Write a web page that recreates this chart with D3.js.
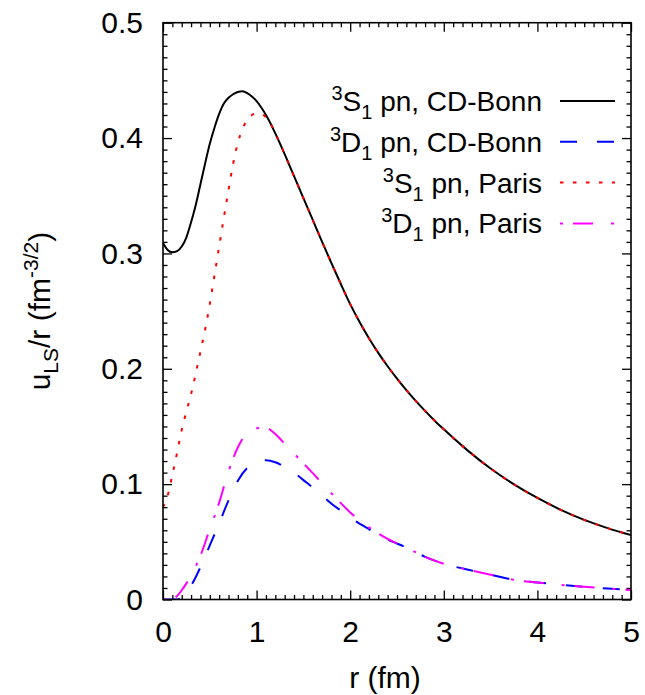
<!DOCTYPE html>
<html>
<head>
<meta charset="utf-8">
<script src="https://cdn.jsdelivr.net/npm/d3@7"></script>
<style>
  html, body { margin: 0; padding: 0; background: #fff; }
  svg { display: block; }
  text { font-family: "Liberation Sans", Arial, Helvetica, sans-serif; fill: #000; }
</style>
</head>
<body>
<svg id="chart" width="645" height="695"></svg>
<script>
// ---- data ----
const rS = [0, 0.05, 0.1, 0.15, 0.2, 0.25, 0.3, 0.35, 0.4, 0.45, 0.5, 0.55, 0.6, 0.65, 0.7, 0.75, 0.8, 0.85, 0.9, 0.95, 1.0,
            1.05, 1.1, 1.15, 1.2, 1.25, 1.3, 1.4, 1.5, 1.6, 1.7, 1.8, 1.9, 2.0, 2.1, 2.2, 2.3, 2.4, 2.5, 2.6, 2.7, 2.8, 2.9, 3.0,
            3.25, 3.5, 3.75, 4.0, 4.25, 4.5, 4.75, 5.0];
const s1Bonn = [0.309, 0.303, 0.301, 0.302, 0.306, 0.314, 0.327, 0.342, 0.360, 0.378, 0.395, 0.409, 0.421, 0.430, 0.435, 0.438, 0.440, 0.4405, 0.439, 0.436, 0.432,
            0.4265, 0.4200, 0.4125, 0.4040, 0.3952, 0.3860, 0.367, 0.348, 0.329, 0.310, 0.2915, 0.2735, 0.2560, 0.2405, 0.2265, 0.2138, 0.2022, 0.1915, 0.1815, 0.1722, 0.1635, 0.1552, 0.1475,
            0.1295, 0.1135, 0.0998, 0.0880, 0.0777, 0.0690, 0.0619, 0.0558];
const s1Paris = [0.080, 0.090, 0.108, 0.127, 0.147, 0.163, 0.178, 0.196, 0.215, 0.234, 0.256, 0.281, 0.306, 0.331, 0.355, 0.378, 0.396, 0.408, 0.416, 0.420, 0.4215,
            0.4210, 0.4180, 0.4125, 0.4040, 0.3952, 0.3860, 0.367, 0.348, 0.329, 0.310, 0.2915, 0.2735, 0.2560, 0.2405, 0.2265, 0.2138, 0.2022, 0.1915, 0.1815, 0.1722, 0.1635, 0.1552, 0.1475,
            0.1295, 0.1135, 0.0998, 0.0880, 0.0777, 0.0690, 0.0619, 0.0558];
const rD = [0, 0.1, 0.15, 0.2, 0.25, 0.3, 0.4, 0.5, 0.6, 0.7, 0.8, 0.9, 1.0, 1.1, 1.2, 1.3, 1.4, 1.5, 1.6, 1.7, 1.8, 1.9, 2.0,
            2.2, 2.4, 2.6, 2.8, 3.0, 3.25, 3.5, 3.75, 4.0, 4.25, 4.5, 4.75, 5.0];
const d1Bonn = [0, 0, 0, 0.001, 0.006, 0.012, 0.028, 0.047, 0.066, 0.086, 0.103, 0.114, 0.119, 0.1207, 0.119, 0.115, 0.110, 0.1035, 0.097, 0.090, 0.083, 0.077, 0.071,
            0.061, 0.052, 0.045, 0.037, 0.031, 0.026, 0.0215, 0.017, 0.0148, 0.0127, 0.011, 0.0095, 0.0082];
const d1Paris = [0, 0.0005, 0.003, 0.008, 0.014, 0.021, 0.038, 0.061, 0.084, 0.111, 0.132, 0.1445, 0.1485, 0.1488, 0.1435, 0.1350, 0.1265, 0.1180, 0.1095, 0.1008, 0.0920, 0.0835, 0.0755,
            0.0625, 0.0525, 0.045, 0.037, 0.031, 0.026, 0.0215, 0.017, 0.0148, 0.0127, 0.011, 0.0095, 0.0082];
const xMajorTicks = [0, 1, 2, 3, 4, 5];
const yMajorTicks = [0, 0.1, 0.2, 0.3, 0.4, 0.5];
const yTickLabels = ["0", "0.1", "0.2", "0.3", "0.4", "0.5"];

const series = [
  { sup: "3", letter: "S", sub: "1", rest: " pn, CD-Bonn", r: rS, v: s1Bonn, color: "#000000", dash: null },
  { sup: "3", letter: "D", sub: "1", rest: " pn, CD-Bonn", r: rD, v: d1Bonn, color: "#0000ff", dash: "17,20" },
  { sup: "3", letter: "S", sub: "1", rest: " pn, Paris", r: rS, v: s1Paris, color: "#ff0000", dash: "3.5,9.5" },
  { sup: "3", letter: "D", sub: "1", rest: " pn, Paris", r: rD, v: d1Paris, color: "#ff00ff", dash: "3,10,20,18" }
];

// ---- layout ----
const L = 163, R = 631, T = 22.7, B = 599.5;
const FS = 28, TFS = 30, AFS = 30;
const svg = d3.select("#chart");
const x = d3.scaleLinear().domain([0, 5]).range([L, R]);
const y = d3.scaleLinear().domain([0, 0.5]).range([B, T]);

const xMinor = d3.range(0, 51).map(i => i / 10).filter(v => Math.abs(v - Math.round(v)) > 1e-9);
const yMinor = d3.range(0, 51).map(i => i / 100).filter(v => Math.abs(v * 10 - Math.round(v * 10)) > 1e-9);

function styleAxis(g) {
  g.select(".domain").remove();
  g.selectAll(".tick line").attr("stroke", "#000").attr("stroke-width", 1.3);
}
const MAJ = 9, MIN = 4.5;
// bottom
svg.append("g").attr("transform", `translate(0,${B})`)
  .call(d3.axisBottom(x).tickValues(xMinor).tickSize(-MIN).tickFormat(""))
  .call(styleAxis);
svg.append("g").attr("transform", `translate(0,${B})`)
  .call(d3.axisBottom(x).tickValues(xMajorTicks).tickSize(-MAJ).tickPadding(21).tickFormat(d3.format("d")))
  .call(styleAxis)
  .call(g => g.selectAll(".tick text").attr("font-size", TFS).attr("dy", "0.71em")
      .attr("font-family", "Liberation Sans, Arial, sans-serif").attr("fill", "#000"));
// top
svg.append("g").attr("transform", `translate(0,${T})`)
  .call(d3.axisTop(x).tickValues(xMinor).tickSize(-MIN).tickFormat(""))
  .call(styleAxis);
svg.append("g").attr("transform", `translate(0,${T})`)
  .call(d3.axisTop(x).tickValues(xMajorTicks).tickSize(-MAJ).tickFormat(""))
  .call(styleAxis);
// left
svg.append("g").attr("transform", `translate(${L},0)`)
  .call(d3.axisLeft(y).tickValues(yMinor).tickSize(-MIN).tickFormat(""))
  .call(styleAxis);
svg.append("g").attr("transform", `translate(${L},0)`)
  .call(d3.axisLeft(y).tickValues(yMajorTicks).tickSize(-MAJ).tickPadding(20)
    .tickFormat((d, i) => yTickLabels[i]))
  .call(styleAxis)
  .call(g => g.selectAll(".tick text").attr("font-size", TFS)
      .attr("font-family", "Liberation Sans, Arial, sans-serif").attr("fill", "#000"));
// right
svg.append("g").attr("transform", `translate(${R},0)`)
  .call(d3.axisRight(y).tickValues(yMinor).tickSize(-MIN).tickFormat(""))
  .call(styleAxis);
svg.append("g").attr("transform", `translate(${R},0)`)
  .call(d3.axisRight(y).tickValues(yMajorTicks).tickSize(-MAJ).tickFormat(""))
  .call(styleAxis);

// clip
svg.append("clipPath").attr("id", "clip")
  .append("rect").attr("x", L).attr("y", T).attr("width", R - L).attr("height", B - T);

const line = d3.line()
  .x(d => x(d[0])).y(d => y(d[1]))
  .curve(d3.curveMonotoneX);

const gCurves = svg.append("g").attr("clip-path", "url(#clip)");
const order = [1, 3, 0, 2];
order.forEach(i => {
  const s = series[i];
  const pts = s.r.map((r, k) => [r, s.v[k]]);
  gCurves.append("path")
    .attr("d", line(pts))
    .attr("fill", "none")
    .attr("stroke", s.color)
    .attr("stroke-width", 2)
    .attr("stroke-dasharray", s.dash)
    .attr("stroke-linejoin", "round");
});

// frame
svg.append("rect").attr("x", L).attr("y", T).attr("width", R - L).attr("height", B - T)
  .attr("fill", "none").attr("stroke", "#000").attr("stroke-width", 1.6);

// legend
const legTextX = 542, legLineX1 = 560, legLineX2 = 615;
const legY0 = 101, legDY = 40.8;
series.forEach((s, i) => {
  const cy = legY0 + i * legDY;
  const t = svg.append("text")
    .attr("x", legTextX).attr("y", cy + 10)
    .attr("text-anchor", "end").attr("font-size", FS);
  t.append("tspan").text(s.sup).attr("font-size", 20).attr("dy", -11);
  t.append("tspan").text(s.letter).attr("dy", 11);
  t.append("tspan").text(s.sub).attr("font-size", 20).attr("dy", 8);
  t.append("tspan").text(s.rest).attr("dy", -8);
  svg.append("line")
    .attr("x1", legLineX1).attr("x2", legLineX2).attr("y1", cy).attr("y2", cy)
    .attr("stroke", s.color).attr("stroke-width", 2)
    .attr("stroke-dasharray", s.dash);
});

// axis labels
svg.append("text").attr("x", (L + R) / 2 - 12).attr("y", 688)
  .attr("text-anchor", "middle").attr("font-size", AFS).text("r (fm)");

const yl = svg.append("text")
  .attr("transform", `translate(50,${(T + B) / 2}) rotate(-90)`)
  .attr("text-anchor", "middle").attr("font-size", AFS);
yl.append("tspan").text("u");
yl.append("tspan").text("LS").attr("font-size", 21).attr("dy", 8);
yl.append("tspan").text("/r (fm").attr("dy", -8);
yl.append("tspan").text("-3/2").attr("font-size", 21).attr("dy", -12);
yl.append("tspan").text(")").attr("dy", 12);
</script>
</body>
</html>
